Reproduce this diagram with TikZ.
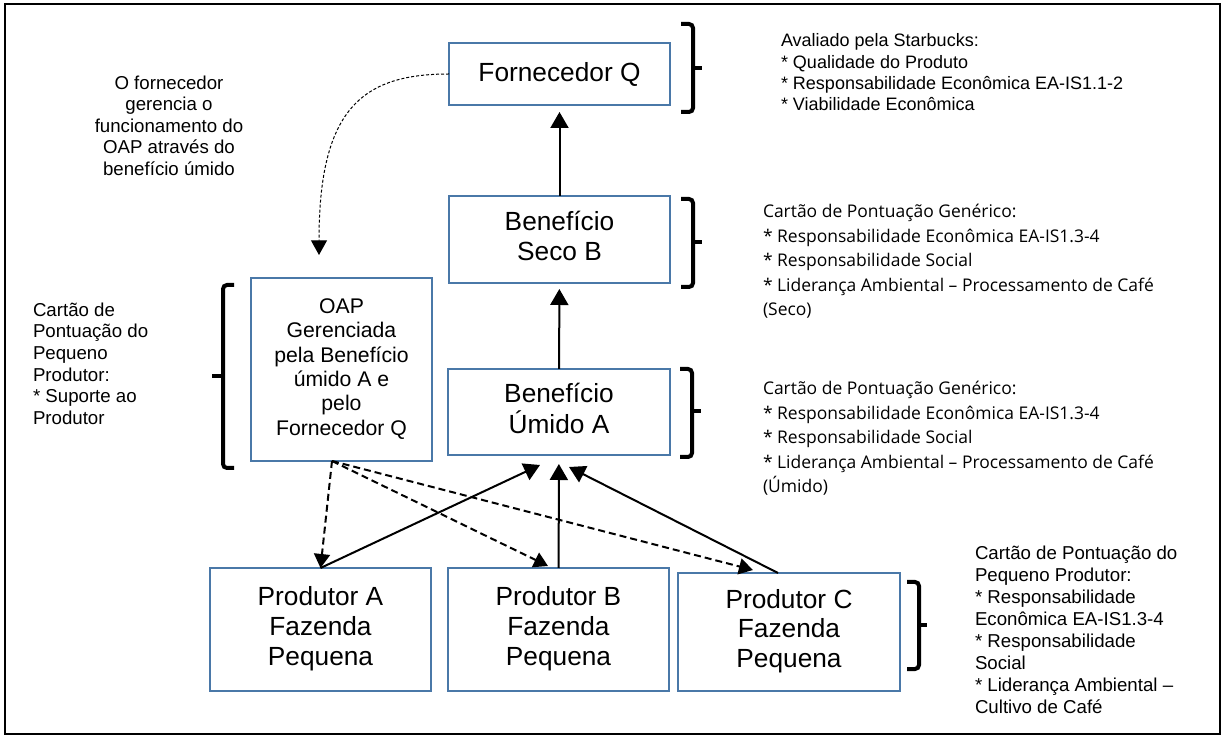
\documentclass[tikz,border=0pt]{standalone}
\usepackage{fontspec}
\setmainfont{Liberation Sans}
\newfontfamily\cardfont{Open Sans}
\usepackage{tikz}
\usepackage{tkz-graph}
\usetikzlibrary{arrows.meta}
\tikzset{
  VertexStyle/.style={},
  EdgeStyle/.style={},
  boxnode/.style={shape=rectangle,line width=1.5pt,inner sep=0pt,
    font={\fontsize{19.7pt}{22.5pt}\selectfont}},
  oapnode/.style={boxnode,font={\fontsize{15.9pt}{18.3pt}\selectfont}},
  notenode/.style={shape=rectangle,draw=none,fill=none,inner sep=0pt,anchor=west,
    text=black,font={\fontsize{14pt}{16.2pt}\selectfont}},
  avnode/.style={notenode,font={\fontsize{13.5pt}{16pt}\selectfont}},
  ppnode/.style={notenode,font={\fontsize{14pt}{16.5pt}\selectfont}},
  cardnode/.style={notenode,font={\cardfont\fontsize{13.1pt}{18.4pt}\selectfont}},
  brak/.style={line width=3pt,rounded corners=3pt},
  fullarrow/.style={draw,line width=1.5pt,-{Triangle[width=13.5pt,length=12pt]}},
  dasharrow/.style={draw,line width=1.5pt,dash pattern=on 5.25pt off 3pt,
    -{Triangle[width=12pt,length=10.5pt]}},
  curvearrow/.style={draw,line width=0.75pt,dash pattern=on 2.25pt off 1.5pt,
    -{Triangle[width=12pt,length=11pt]}}
}
\begin{document}
\begin{tikzpicture}[x=0.75pt,y=-0.75pt]
\definecolor{cvfq}{rgb}{0.29,0.471,0.659}
\definecolor{cfvfq}{rgb}{1.0,1.0,1.0}
\definecolor{clvfq}{rgb}{0.0,0.0,0.0}
\definecolor{cvbsb}{rgb}{0.29,0.471,0.659}
\definecolor{cfvbsb}{rgb}{1.0,1.0,1.0}
\definecolor{clvbsb}{rgb}{0.0,0.0,0.0}
\definecolor{cvbua}{rgb}{0.29,0.471,0.659}
\definecolor{cfvbua}{rgb}{1.0,1.0,1.0}
\definecolor{clvbua}{rgb}{0.0,0.0,0.0}
\definecolor{cvoap}{rgb}{0.29,0.471,0.659}
\definecolor{cfvoap}{rgb}{1.0,1.0,1.0}
\definecolor{clvoap}{rgb}{0.0,0.0,0.0}
\definecolor{cvpa}{rgb}{0.29,0.471,0.659}
\definecolor{cfvpa}{rgb}{1.0,1.0,1.0}
\definecolor{clvpa}{rgb}{0.0,0.0,0.0}
\definecolor{cvpb}{rgb}{0.29,0.471,0.659}
\definecolor{cfvpb}{rgb}{1.0,1.0,1.0}
\definecolor{clvpb}{rgb}{0.0,0.0,0.0}
\definecolor{cvpc}{rgb}{0.29,0.471,0.659}
\definecolor{cfvpc}{rgb}{1.0,1.0,1.0}
\definecolor{clvpc}{rgb}{0.0,0.0,0.0}
\definecolor{cvbsbvfq}{rgb}{0.0,0.0,0.0}
\definecolor{cvbuavbsb}{rgb}{0.0,0.0,0.0}
\definecolor{cvpavbua}{rgb}{0.0,0.0,0.0}
\definecolor{cvpbvbua}{rgb}{0.0,0.0,0.0}
\definecolor{cvpcvbua}{rgb}{0.0,0.0,0.0}
\definecolor{cvoapvpa}{rgb}{0.0,0.0,0.0}
\definecolor{cvoapvpb}{rgb}{0.0,0.0,0.0}
\definecolor{cvoapvpc}{rgb}{0.0,0.0,0.0}
\definecolor{cvfqvoap}{rgb}{0.0,0.0,0.0}
%
\useasboundingbox (0,0) rectangle (1225,737);
\draw[line width=1.5pt] (5,4) rectangle (1220,734);
%
\Vertex[style={boxnode,minimum width=165.75pt,minimum height=46.5pt,draw=cvfq,fill=cfvfq,text=clvfq},LabelOut=false,L=\hbox{Fornecedor Q},x=559.5,y=74]{vfq}
\Vertex[style={boxnode,minimum width=165.75pt,minimum height=65.25pt,draw=cvbsb,fill=cfvbsb,text=clvbsb},LabelOut=false,L=\hbox{\begin{tabular}{@{}c@{}}Benefício\\Seco B\end{tabular}},x=559.5,y=239.5]{vbsb}
\Vertex[style={boxnode,minimum width=166.5pt,minimum height=64.5pt,draw=cvbua,fill=cfvbua,text=clvbua},LabelOut=false,L=\hbox{\begin{tabular}{@{}c@{}}Benefício\\Úmido A\end{tabular}},x=559,y=412]{vbua}
\Vertex[style={oapnode,minimum width=135.75pt,minimum height=137.25pt,draw=cvoap,fill=cfvoap,text=clvoap},LabelOut=false,L=\hbox{\begin{tabular}{@{}c@{}}OAP\\Gerenciada\\pela Benefício\\úmido A e\\pelo\\Fornecedor Q\end{tabular}},x=341.5,y=369.5]{voap}
\Vertex[style={boxnode,minimum width=165.75pt,minimum height=92.25pt,draw=cvpa,fill=cfvpa,text=clvpa},LabelOut=false,L=\hbox{\begin{tabular}{@{}c@{}}Produtor A\\Fazenda\\Pequena\end{tabular}},x=320.5,y=629.5]{vpa}
\Vertex[style={boxnode,minimum width=165.75pt,minimum height=92.25pt,draw=cvpb,fill=cfvpb,text=clvpb},LabelOut=false,L=\hbox{\begin{tabular}{@{}c@{}}Produtor B\\Fazenda\\Pequena\end{tabular}},x=558.5,y=629.5]{vpb}
\Vertex[style={boxnode,minimum width=166.5pt,minimum height=88.5pt,draw=cvpc,fill=cfvpc,text=clvpc},LabelOut=false,L=\hbox{\begin{tabular}{@{}c@{}}Produtor C\\Fazenda\\Pequena\end{tabular}},x=789,y=632]{vpc}
%
\Vertex[style={notenode,anchor=center},LabelOut=false,L=\hbox{\begin{tabular}{@{}c@{}}O fornecedor\\gerencia o\\funcionamento do\\OAP através do\\benefício úmido\end{tabular}},x=169,y=128]{vof}
\Vertex[style={notenode},LabelOut=false,L=\hbox{\begin{tabular}{@{}l@{}}Cartão de\\Pontuação do\\Pequeno\\Produtor:\\{}* Suporte ao\\Produtor\end{tabular}},x=33,y=366]{vsp}
\Vertex[style={avnode},LabelOut=false,L=\hbox{\begin{tabular}{@{}l@{}}Avaliado pela Starbucks:\\{}* Qualidade do Produto\\{}* Responsabilidade Econômica EA-IS1.1-2\\{}* Viabilidade Econômica\end{tabular}},x=781,y=74.5]{vav}
\Vertex[style={cardnode},LabelOut=false,L=\hbox{\begin{tabular}{@{}l@{}}Cartão de Pontuação Genérico:\\{}* Responsabilidade Econômica EA-IS1.3-4\\{}* Responsabilidade Social\\{}* Liderança Ambiental – Processamento de Café\\(Seco)\end{tabular}},x=763,y=262]{vgs}
\Vertex[style={cardnode},LabelOut=false,L=\hbox{\begin{tabular}{@{}l@{}}Cartão de Pontuação Genérico:\\{}* Responsabilidade Econômica EA-IS1.3-4\\{}* Responsabilidade Social\\{}* Liderança Ambiental – Processamento de Café\\(Úmido)\end{tabular}},x=763,y=439]{vgu}
\Vertex[style={ppnode},LabelOut=false,L=\hbox{\begin{tabular}{@{}l@{}}Cartão de Pontuação do\\Pequeno Produtor:\\{}* Responsabilidade\\Econômica EA-IS1.3-4\\{}* Responsabilidade\\Social\\{}* Liderança Ambiental –\\Cultivo de Café\end{tabular}},x=975,y=632.5]{vpp}
%
\draw[brak] (681,24) -- (693,24) -- (693,112) -- (681,112);
\draw[brak] (693,68) -- (702,68);
\draw[brak] (681,199) -- (693,199) -- (693,287) -- (681,287);
\draw[brak] (693,242) -- (702,242);
\draw[brak] (680,369) -- (692,369) -- (692,457) -- (680,457);
\draw[brak] (692,411) -- (701,411);
\draw[brak] (907,582) -- (919,582) -- (919,669) -- (907,669);
\draw[brak] (919,625) -- (927,625);
\draw[brak] (234,285) -- (223,285) -- (223,468) -- (234,468);
\draw[brak] (223,376) -- (212,376);
%
\coordinate (oapin) at (319,255);
\coordinate (oapout) at (332,461);
\coordinate (buain1) at (540,465);
\coordinate (buain3) at (569,467);
\coordinate (pcout) at (778,573);
\coordinate (pbin) at (548,566);
\coordinate (pcin) at (753,570);
%
\Edge[lw=1.5pt,style={fullarrow,color=cvbsbvfq,shorten >=5.25pt}](vbsb)(vfq)
\Edge[lw=1.5pt,style={fullarrow,color=cvbuavbsb,shorten >=4.5pt}](vbua)(vbsb)
\Edge[lw=1.5pt,style={fullarrow,color=cvpavbua}](vpa.north)(buain1)
\Edge[lw=1.5pt,style={fullarrow,color=cvpbvbua,shorten >=6.75pt}](vpb)(vbua)
\Edge[lw=1.5pt,style={fullarrow,color=cvpcvbua}](pcout)(buain3)
\Edge[lw=1.5pt,style={dasharrow,color=cvoapvpa}](oapout)(vpa.north)
\Edge[lw=1.5pt,style={dasharrow,color=cvoapvpb}](oapout)(pbin)
\Edge[lw=1.5pt,style={dasharrow,color=cvoapvpc}](oapout)(pcin)
\Edge[lw=0.75pt,style={curvearrow,color=cvfqvoap,out=180,in=90,in looseness=1.67}](vfq.west)(oapin)
%
\end{tikzpicture}
\end{document}
